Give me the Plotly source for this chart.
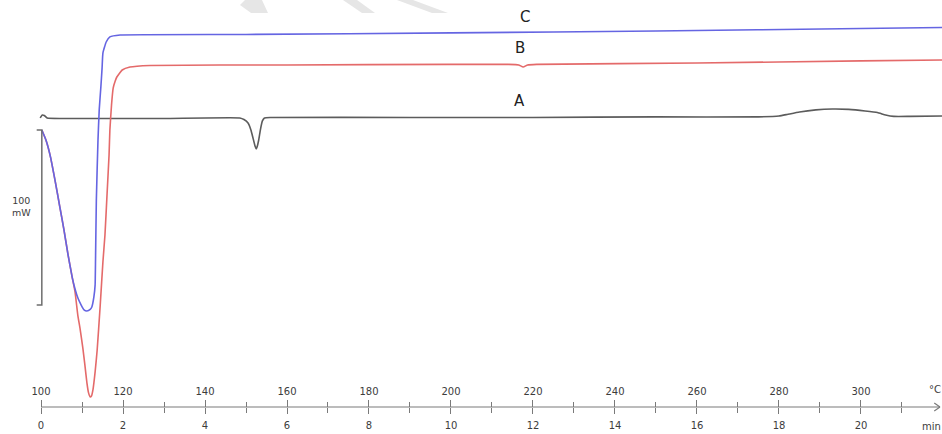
import plotly.graph_objects as go

# ---------------- data (temperature in °C, heat flow in mW, curves offset) ----------------
a_temp = [99.8, 100.3, 100.8, 101.5, 105, 130, 148.5, 149.5, 150.5, 151.2, 151.7, 152.2, 152.5,
          152.7, 153.1, 153.5, 154.0, 154.5, 156, 190, 220, 250, 275, 280, 282, 285, 289, 293,
          297, 301, 304, 306, 308, 312, 319.8]
a_mw = [0, 1.7, 1.4, 0, -0.3, -0.3, 0, -0.9, -2.9, -6.9, -11.4, -16.0, -17.7,
        -16.6, -12.6, -6.9, -1.7, 0, 0.3, 0.3, 0.3, 0.6, 0.6, 1.1, 2.0, 3.4, 4.6, 5.1,
        4.9, 4.0, 3.1, 1.7, 0.9, 0.9, 1.1]

b_temp = [100.2, 101.2, 102.2, 103.4, 104.6, 105.6, 106.6, 107.6, 108.3, 109.0, 109.5, 110.2,
          110.7, 111.2, 111.6, 112.0, 112.3, 112.7, 113.2, 113.7, 114.4, 115.1, 115.6, 116.1,
          116.6, 116.8, 117.2, 117.6, 118.1, 118.5, 119.8, 121.7, 126.6, 160, 200, 214, 216.5,
          217.6, 218.7, 221, 260, 300, 319.8]
b_mw = [-6.9, -12.6, -21.1, -35.4, -50.9, -64.0, -78.3, -90.9, -99.4, -113.1, -120.0, -131.4,
        -141.1, -151.4, -157.1, -159.4, -158.9, -154.9, -145.1, -132.6, -108.6, -82.3, -66.9, -44.0,
        -21.1, -6.9, 7.4, 17.1, 21.1, 23.4, 27.4, 29.1, 30.0, 30.3, 30.6, 30.6, 30.3,
        29.1, 30.3, 30.6, 31.4, 32.6, 33.1]

c_temp = [100.2, 101.2, 102.2, 103.4, 104.6, 105.6, 106.6, 107.6, 108.3, 109.0, 109.8, 110.5,
          111.2, 112.0, 112.4, 112.9, 113.2, 113.3, 113.5, 113.9, 114.2, 114.6, 114.9, 115.1,
          115.9, 116.8, 119.3, 150, 200, 250, 300, 319.8]
c_mw = [-6.9, -12.6, -21.1, -35.4, -50.9, -64.0, -78.3, -90.9, -97.7, -102.9, -106.9, -109.7,
        -110.3, -109.4, -108.0, -102.3, -95.4, -81.1, -46.9, -12.6, 4.6, 17.7, 28.6, 37.1,
        43.4, 46.3, 47.4, 47.7, 48.6, 49.7, 51.1, 51.7]

curve_labels = ["A", "B", "C"]

temp_ticks = [100, 120, 140, 160, 180, 200, 220, 240, 260, 280, 300]
temp_minor = [110, 130, 150, 170, 190, 210, 230, 250, 270, 290, 310]
time_ticks = [0, 2, 4, 6, 8, 10, 12, 14, 16, 18, 20]
time_minor = [1, 3, 5, 7, 9, 11, 13, 15, 17, 19, 21]

scale_bar_mw = 100          # vertical scale bar = 100 mW
scale_bar_top = -6.9
scale_label = "100<br>mW"

# ---------------- layout helpers ----------------
W, H = 942, 434
T_RANGE = [90.0, 319.76]            # °C across the full width
Y_RANGE = [-180.6, 67.4]            # mW across the full height
heat_rate = 10.0                    # °C per minute
AXIS_Y = 27 / H                     # paper position of the time/temperature axis
axis_y_data = Y_RANGE[0] + AXIS_Y * (Y_RANGE[1] - Y_RANGE[0])
AX_COL = "#7a7a7a"
TXT_COL = "#3c3c3c"
FONT = "DejaVu Sans"

fig = go.Figure()

line_common = dict(shape="spline", smoothing=0.4, width=1.6)
fig.add_trace(go.Scatter(x=a_temp, y=a_mw, mode="lines", cliponaxis=False,
                         line=dict(color="#5c5c5c", **line_common), name="A"))
fig.add_trace(go.Scatter(x=b_temp, y=b_mw, mode="lines", cliponaxis=False,
                         line=dict(color="#e46a6a", **line_common), name="B"))
fig.add_trace(go.Scatter(x=c_temp, y=c_mw, mode="lines", cliponaxis=False,
                         line=dict(color="#6565e2", **line_common), name="C"))

# scale bar (bracket) showing 100 mW
sb_x = 100.2
fig.add_trace(go.Scatter(
    x=[sb_x - 1.25, sb_x, sb_x, sb_x - 1.25],
    y=[scale_bar_top, scale_bar_top, scale_bar_top - scale_bar_mw, scale_bar_top - scale_bar_mw],
    mode="lines", line=dict(color="#6e6e6e", width=1.5), cliponaxis=False, hoverinfo="skip"))

# axis line from origin to arrow
x_end = T_RANGE[0] + (940 / W) * (T_RANGE[1] - T_RANGE[0])
shapes = [
    dict(type="line", xref="x", yref="paper", x0=100, x1=x_end, y0=AXIS_Y, y1=AXIS_Y,
         line=dict(color=AX_COL, width=1.2)),
    dict(type="line", xref="x", yref="paper", x0=x_end - 1.4, x1=x_end, y0=AXIS_Y + 4 / H,
         y1=AXIS_Y, line=dict(color=AX_COL, width=1.2)),
    dict(type="line", xref="x", yref="paper", x0=x_end - 1.4, x1=x_end, y0=AXIS_Y - 4 / H,
         y1=AXIS_Y, line=dict(color=AX_COL, width=1.2)),
]


# faint watermark strokes at the top edge
def px_path(pts):
    s = ""
    for i, (px, py) in enumerate(pts):
        s += ("M" if i == 0 else "L") + f"{px / W:.4f},{1 - py / H:.4f} "
    return s + "Z"


for pts in [
    [(245, 0), (262, 0), (268, 13), (251, 13), (240, 5)],
    [(343, 0), (357, 0), (375, 13), (362, 13)],
    [(397, 0), (413, 0), (448, 13), (432, 13)],
]:
    shapes.append(dict(type="path", xref="paper", yref="paper", path=px_path(pts),
                       fillcolor="#e6e6e6", line=dict(width=0), layer="below"))

annotations = []
label_pos = {"A": (216.6, 9.7), "B": (216.8, 40.0), "C": (218.0, 57.7)}
for lab in curve_labels:
    x, y = label_pos[lab]
    annotations.append(dict(x=x, y=y, xref="x", yref="y", text=lab, showarrow=False,
                            xanchor="center",
                            font=dict(family=FONT, size=15, color="#222222")))

annotations.append(dict(x=21 / W, y=1 - 206 / H, xref="paper", yref="paper", text=scale_label,
                        showarrow=False, align="center", xanchor="center", yanchor="middle",
                        font=dict(family=FONT, size=9.5, color=TXT_COL)))
annotations.append(dict(x=1.0, y=1 - 389 / H, xref="paper", yref="paper", text="°C",
                        xanchor="right", yanchor="middle", showarrow=False, borderpad=0,
                        font=dict(family=FONT, size=10, color=TXT_COL)))
annotations.append(dict(x=1.0, y=1 - 426 / H, xref="paper", yref="paper", text="min",
                        xanchor="right", yanchor="middle", showarrow=False, borderpad=0,
                        font=dict(family=FONT, size=10, color=TXT_COL)))

fig.update_layout(
    width=W, height=H,
    margin=dict(l=0, r=0, t=0, b=0),
    paper_bgcolor="white", plot_bgcolor="white",
    showlegend=False, hovermode=False,
    shapes=shapes, annotations=annotations,
    xaxis=dict(
        range=T_RANGE, anchor="free", position=AXIS_Y, side="top",
        showline=False, showgrid=False, zeroline=False,
        tickmode="array", tickvals=temp_ticks, ticktext=[str(t) for t in temp_ticks],
        ticks="outside", ticklen=7, tickwidth=1.2, tickcolor=AX_COL,
        ticklabelstandoff=1,
        tickfont=dict(family=FONT, size=10, color=TXT_COL),
        minor=dict(tickmode="array", tickvals=temp_minor, ticks="outside", ticklen=5,
                   tickwidth=1.2, tickcolor=AX_COL),
    ),
    xaxis2=dict(
        range=[(T_RANGE[0] - 100) / heat_rate, (T_RANGE[1] - 100) / heat_rate],
        overlaying="x", anchor="free", position=AXIS_Y, side="bottom",
        showline=False, showgrid=False, zeroline=False,
        tickmode="array", tickvals=time_ticks, ticktext=[str(t) for t in time_ticks],
        ticks="outside", ticklen=6, tickwidth=1.2, tickcolor=AX_COL,
        ticklabelstandoff=3,
        tickfont=dict(family=FONT, size=10, color=TXT_COL),
        minor=dict(tickmode="array", tickvals=time_minor, ticks="outside", ticklen=5,
                   tickwidth=1.2, tickcolor=AX_COL),
    ),
    yaxis=dict(range=Y_RANGE, visible=False, showgrid=False, zeroline=False),
)

# an invisible trace to activate the minutes axis
fig.add_trace(go.Scatter(x=[time_ticks[0]], y=[axis_y_data], xaxis="x2", mode="markers",
                         marker=dict(opacity=0), hoverinfo="skip"))

fig.write_html(
    "out.html",
    config={"displayModeBar": False},
    post_script="document.body.style.margin='0px';document.body.style.overflow='hidden';",
)
